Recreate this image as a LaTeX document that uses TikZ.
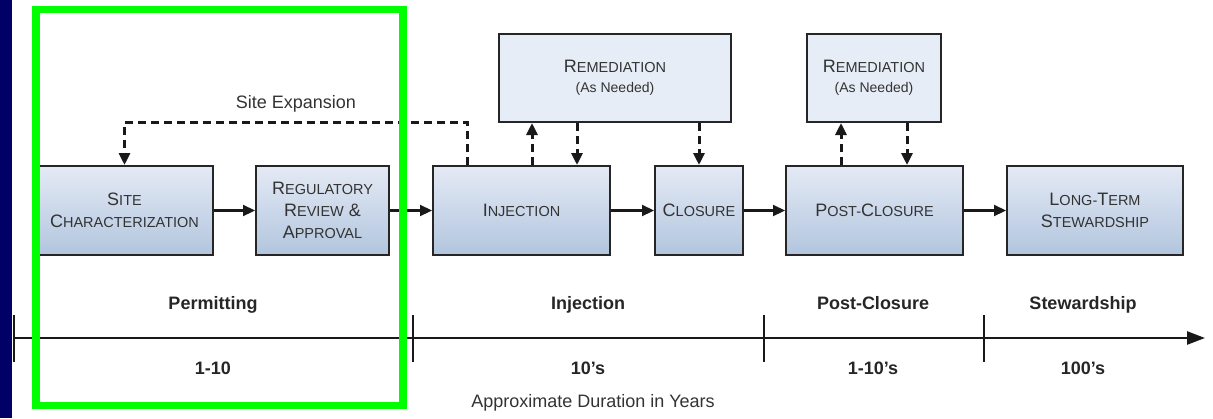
\documentclass[tikz,border=0pt]{standalone}
\usepackage{fontspec}
\setmainfont{Liberation Sans}
\usetikzlibrary{arrows.meta}

\definecolor{boxtop}{HTML}{E4EAF5}
\definecolor{boxbot}{HTML}{B2C5DE}
\definecolor{remfill}{HTML}{E6EDF6}
\definecolor{navybar}{HTML}{000066}
\definecolor{framegreen}{HTML}{00FF00}
\definecolor{inktext}{HTML}{333333}

% smaller capitals after a full-size first letter
\newcommand{\smc}[1]{{\fontsize{14.5}{22}\selectfont #1}}

\begin{document}
\begin{tikzpicture}[x=1pt, y=-1pt,
    stage/.style={draw=black!85, line width=2pt, top color=boxtop, bottom color=boxbot,
      minimum height=89pt, inner sep=0pt, align=center, text=inktext,
      font=\fontsize{18}{22}\selectfont},
    remedy/.style={draw=black!85, line width=2pt, fill=remfill,
      minimum height=88pt, inner sep=0pt, align=center, text=inktext,
      font=\fontsize{18}{20}\selectfont},
    flow/.style={-{Triangle[length=12pt,width=11pt]}, line width=2.2pt, draw=black!90},
    dashflow/.style={flow, line width=3pt, dash pattern=on 8pt off 5pt},
    timeline/.style={-{Triangle[length=18pt,width=13pt]}, line width=2.5pt, draw=black!90},
    tick/.style={line width=2pt, draw=black!90},
    phase/.style={font=\bfseries\fontsize{18}{20}\selectfont, text=black!85,
      text height=13pt, text depth=4pt},
    note/.style={font=\fontsize{18}{20}\selectfont, text=black!80,
      text height=13pt, text depth=4pt}]

  \useasboundingbox (0,0) rectangle (1213,418);
  \fill[navybar] (0,0) rectangle (12,418);

  % stages
  \node[stage, minimum width=177pt] (site) at (124.5,210.5) {S\smc{ITE}\\C\smc{HARACTERIZATION}};
  \node[stage, minimum width=133pt] (review) at (322.5,210.5) {R\smc{EGULATORY}\\R\smc{EVIEW} \&\\A\smc{PPROVAL}};
  \node[stage, minimum width=177pt] (inject) at (521.5,210.5) {I\smc{NJECTION}};
  \node[stage, minimum width=88pt] (closure) at (699,210.5) {C\smc{LOSURE}};
  \node[stage, minimum width=177pt] (post) at (874.5,210.5) {P\smc{OST-}C\smc{LOSURE}};
  \node[stage, minimum width=176pt] (stew) at (1095,210.5) {L\smc{ONG-}T\smc{ERM}\\S\smc{TEWARDSHIP}};

  \node[remedy, minimum width=232pt] (remA) at (615,78) {R\smc{EMEDIATION}\\{\fontsize{14}{20}\selectfont (As Needed)}};
  \node[remedy, minimum width=134pt] (remB) at (874,78) {R\smc{EMEDIATION}\\{\fontsize{14}{20}\selectfont (As Needed)}};

  \draw[flow] (site) -- (review);
  \draw[flow] (review) -- (inject);
  \draw[flow] (inject) -- (closure);
  \draw[flow] (closure) -- (post);
  \draw[flow] (post) -- (stew);

  % site expansion loop
  \draw[dashflow] ([xshift=-54.5pt]inject.north) -- ++(0,-43) -| (site.north);
  \node[note] (expand) at (296,104) {Site Expansion};

  % remediation links
  \draw[dashflow] ([xshift=10.5pt]inject.north) -- ([xshift=10.5pt]inject.north |- remA.south);
  \draw[dashflow] ([xshift=-38pt]remA.south) -- ([xshift=-38pt]remA.south |- inject.north);
  \draw[dashflow] (closure.north |- remA.south) -- (closure.north);
  \draw[dashflow] ([xshift=-33.5pt]post.north) -- ([xshift=-33.5pt]post.north |- remB.south);
  \draw[dashflow] ([xshift=33pt]remB.south) -- ([xshift=33pt]remB.south |- post.north);

  % time axis
  \coordinate (tstart) at (14,338);
  \coordinate (tend) at (1205,338);
  \draw[timeline] (tstart) -- (tend);
  \foreach \tx in {14,413,764,984}
    \draw[tick] (\tx,315) -- (\tx,362);
  \foreach \lx/\phase/\dur in {213/Permitting/1-10, 588/Injection/10's, 873/Post-Closure/1-10's, 1083/Stewardship/100's}{
    \node[phase] (ph\lx) at (\lx,305) {\phase};
    \node[phase] (du\lx) at (\lx,370) {\dur};
  }
  \node[note] (years) at (593,403) {Approximate Duration in Years};

  \draw[framegreen, line width=7.5pt] (36,9.5) rectangle (403,405.5);
\end{tikzpicture}
\end{document}
